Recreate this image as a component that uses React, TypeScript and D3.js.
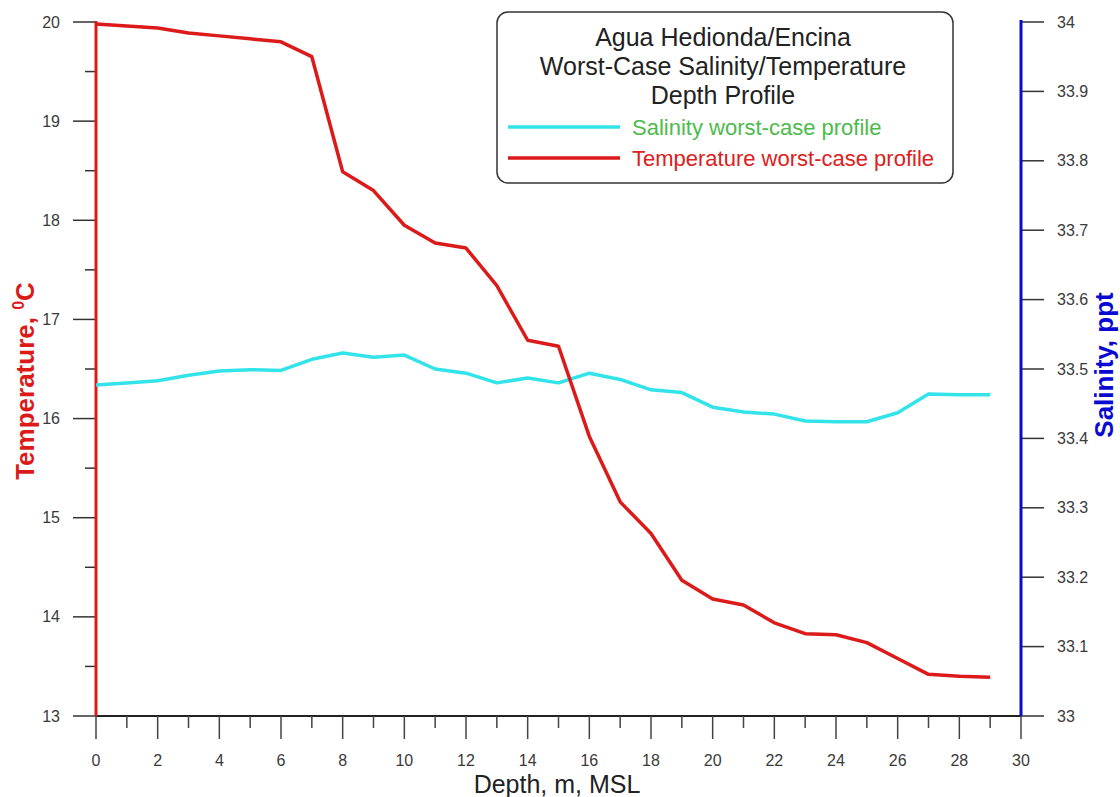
import React from "react";
import * as d3 from "d3";

const depths = [0,1,2,3,4,5,6,7,8,9,10,11,12,13,14,15,16,17,18,19,20,21,22,23,24,25,26,27,28,29];
const temperature = [19.98,19.96,19.94,19.89,19.86,19.83,19.80,19.65,18.49,18.30,17.95,17.77,17.72,17.34,16.79,16.73,15.82,15.16,14.84,14.37,14.18,14.12,13.94,13.83,13.82,13.74,13.58,13.42,13.40,13.39];
const salinity = [33.477,33.480,33.483,33.491,33.497,33.499,33.498,33.514,33.523,33.517,33.520,33.500,33.494,33.480,33.487,33.480,33.494,33.485,33.470,33.466,33.445,33.438,33.435,33.425,33.424,33.424,33.437,33.464,33.463,33.463];

const xTickLabels = [0,2,4,6,8,10,12,14,16,18,20,22,24,26,28,30];
const tempTickLabels = [13,14,15,16,17,18,19,20];
const salTickLabels = [33,33.1,33.2,33.3,33.4,33.5,33.6,33.7,33.8,33.9,34];

const titleLines = ["Agua Hedionda/Encina", "Worst-Case Salinity/Temperature", "Depth Profile"];
const legendItems = [
  { label: "Salinity worst-case profile", line: "#33e3ea", text: "#4cbb4c" },
  { label: "Temperature worst-case profile", line: "#dd1a1a", text: "#dd2020" },
];

const FONT = "'Liberation Sans', Arial, Helvetica, sans-serif";

export default function App() {
  const W = 1120, H = 797;
  const left = 96, right = 1021, top = 22, bottom = 716;
  const x = d3.scaleLinear().domain([0, 30]).range([left, right]);
  const yT = d3.scaleLinear().domain([13, 20]).range([bottom, top]);
  const yS = d3.scaleLinear().domain([33, 34]).range([bottom, top]);

  const tempLine = d3.line<number>().x((_, i) => x(depths[i])).y((d) => yT(d))(temperature) || "";
  const salLine = d3.line<number>().x((_, i) => x(depths[i])).y((d) => yS(d))(salinity) || "";

  const xMinor = d3.range(1, 30, 2);
  const tMinor = d3.range(13.5, 20, 1);

  return (
    <svg width={W} height={H} style={{ position: "absolute", left: 0, top: 0, background: "#fff" }} fontFamily={FONT}>
      {/* bottom axis */}
      <line x1={left} x2={right} y1={bottom} y2={bottom} stroke="#222" strokeWidth={2} />
      {xTickLabels.map((t) => (
        <g key={"xt" + t}>
          <line x1={x(t)} x2={x(t)} y1={bottom} y2={bottom + 23} stroke="#444" strokeWidth={1.5} />
          <text x={x(t)} y={766} textAnchor="middle" fontSize={16} fill="#3a3a3a">{t}</text>
        </g>
      ))}
      {xMinor.map((t) => (
        <line key={"xm" + t} x1={x(t)} x2={x(t)} y1={bottom} y2={bottom + 12} stroke="#444" strokeWidth={1.5} />
      ))}
      <text x={557} y={793} textAnchor="middle" fontSize={25} fill="#222">Depth, m, MSL</text>

      {/* left axis */}
      {tempTickLabels.map((t) => (
        <g key={"tt" + t}>
          <line x1={left - 23} x2={left} y1={yT(t)} y2={yT(t)} stroke="#333" strokeWidth={1.5} />
          <text x={60} y={yT(t)} dy="0.35em" textAnchor="end" fontSize={16} fill="#3a3a3a">{t}</text>
        </g>
      ))}
      {tMinor.map((t) => (
        <line key={"tm" + t} x1={left - 11} x2={left} y1={yT(t)} y2={yT(t)} stroke="#333" strokeWidth={1.5} />
      ))}
      <line x1={left} x2={left} y1={top - 1} y2={bottom} stroke="#dd1a1a" strokeWidth={3} />
      <text transform={`translate(34, ${(top + bottom) / 2 + 12}) rotate(-90)`} textAnchor="middle" fontSize={26} fontWeight="bold" fill="#dd1a1a">
        Temperature, <tspan fontSize={16} dy={-10}>0</tspan><tspan dy={10}>C</tspan>
      </text>

      {/* right axis */}
      {salTickLabels.map((t) => (
        <g key={"st" + t}>
          <line x1={right} x2={right + 23} y1={yS(t)} y2={yS(t)} stroke="#333" strokeWidth={1.5} />
          <text x={1057} y={yS(t)} dy="0.35em" textAnchor="start" fontSize={16} fill="#3a3a3a">{t}</text>
        </g>
      ))}
      <line x1={right} x2={right} y1={top - 2} y2={bottom} stroke="#0a0ad0" strokeWidth={3} />
      <text transform={`translate(1113, ${(top + bottom) / 2 - 4}) rotate(-90)`} textAnchor="middle" fontSize={26} fontWeight="bold" fill="#0a0ad0">
        Salinity, ppt
      </text>

      {/* data lines */}
      <path d={salLine} fill="none" stroke="#33e3ea" strokeWidth={3.5} strokeLinejoin="round" />
      <path d={tempLine} fill="none" stroke="#dd1a1a" strokeWidth={3.5} strokeLinejoin="round" />

      {/* legend */}
      <rect x={497} y={12} width={456} height={171} rx={11} ry={11} fill="#fff" stroke="#333" strokeWidth={1.5} />
      {titleLines.map((s, i) => (
        <text key={s} x={723} y={46 + i * 29} textAnchor="middle" fontSize={25} fill="#222">{s}</text>
      ))}
      {legendItems.map((it, i) => (
        <g key={it.label}>
          <line x1={508} x2={620} y1={127 + i * 31} y2={127 + i * 31} stroke={it.line} strokeWidth={3.5} />
          <text x={632} y={135 + i * 31} fontSize={22} fill={it.text}>{it.label}</text>
        </g>
      ))}
    </svg>
  );
}
